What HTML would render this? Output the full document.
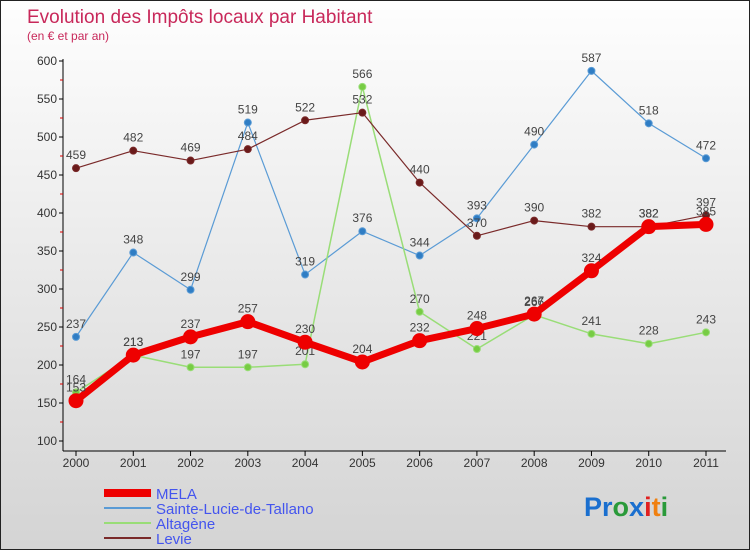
<!DOCTYPE html>
<html><head><meta charset="utf-8"><style>
body{margin:0}
#wrap{width:748px;height:548px;border:1px solid #222;background:linear-gradient(#fefefe,#d4d4d4);position:relative;font-family:"Liberation Sans",sans-serif;overflow:hidden}
</style></head><body>
<div id="wrap">
<svg id="s" width="748" height="548">
<text x="26" y="22" font-size="19" fill="#c8285a">Evolution des Impôts locaux par Habitant</text>
<text x="26" y="39" font-size="12" fill="#c8285a">(en € et par an)</text>
<g id="axes"></g><g id="series"></g><g id="legend"></g>
<text x="583" y="515" font-size="27" font-weight="bold"><tspan fill="#1a6fcf">Pr</tspan><tspan fill="#2a9a3a">o</tspan><tspan fill="#1a6fcf">x</tspan><tspan fill="#e02020">i</tspan><tspan fill="#f08010">t</tspan><tspan fill="#2a9a3a">i</tspan></text>
</svg></div>
<script>
const years=[2000,2001,2002,2003,2004,2005,2006,2007,2008,2009,2010,2011];
const yTicks=[100,150,200,250,300,350,400,450,500,550,600];
const mela=[153,213,237,257,230,204,232,248,267,324,382,385];
const sainte=[237,348,299,519,319,376,344,393,490,587,518,472];
const altagene=[164,213,197,197,201,566,270,221,266,241,228,243];
const levie=[459,482,469,484,522,532,440,370,390,382,382,397];
const NS="http://www.w3.org/2000/svg";
const x=i=>75+i*(630/11);
const y=v=>440-(v-100)*0.76;
function mk(tag,attrs,parent,txt){const e=document.createElementNS(NS,tag);for(const k in attrs)e.setAttribute(k,attrs[k]);if(txt!=null)e.textContent=txt;parent.appendChild(e);return e;}
const ax=document.getElementById('axes');
let yl=mk('line',{x1:62,y1:58,x2:62,y2:450,stroke:'#000'},ax);


let xl=mk('line',{x1:62,y1:450,x2:725,y2:450,stroke:'#000'},ax);


yTicks.forEach((t,i)=>{
 mk('line',{x1:58,y1:y(t),x2:62,y2:y(t),stroke:'#000'},ax);
 if(i<yTicks.length-1)mk('line',{x1:59,y1:y(t+25),x2:62,y2:y(t+25),stroke:'#d00'},ax);
 const tx=mk('text',{x:56,y:y(t)+4,'font-size':12,fill:'#333','text-anchor':'end'},ax,t);
 
 
});
years.forEach((yr,i)=>{
 mk('line',{x1:x(i),y1:450,x2:x(i),y2:455,stroke:'#000'},ax);
 const tx=mk('text',{x:x(i),y:466,'font-size':12,fill:'#333','text-anchor':'middle'},ax,yr);
 
 
});
const sg=document.getElementById('series');
function series(vals,color,dot,w,r,name){
 const g=mk('g',{},sg);
 
 
 mk('polyline',{points:vals.map((v,i)=>x(i)+','+y(v)).join(' '),fill:'none',stroke:color,'stroke-width':w,'stroke-linejoin':'round'},g);
 vals.forEach((v,i)=>{
  const c=mk('circle',{cx:x(i),cy:y(v),r:r,fill:dot,stroke:color,'stroke-width':1},g);
  
  
  const t=mk('text',{x:x(i),y:y(v)-9,'font-size':12,fill:'#444','text-anchor':'middle'},g,v);
  
  
 });
}
series(sainte,'#5a9bd5','#2f7dc4',1.2,3.5,'series-sainte-lucie');
series(altagene,'#99dd77','#77cc44',1.5,3.5,'series-altagene');
series(levie,'#7a2a2a','#6a1a1a',1.2,3.5,'series-levie');
series(mela,'#ee0000','#ee0000',7,7,'series-mela');
const lg=document.getElementById('legend');
[['MELA','#ee0000',8],['Sainte-Lucie-de-Tallano','#5a9bd5',2],['Altagène','#99dd77',2],['Levie','#7a2a2a',2]].forEach((d,i)=>{
 const g=mk('g',{},lg);
 
 
 const ly=492+i*15;
 mk('line',{x1:103,y1:ly,x2:150,y2:ly,stroke:d[1],'stroke-width':d[2]},g);
 mk('text',{x:155,y:ly+6,'font-size':15,fill:'#4455ee'},g,d[0]);
});
</script>
</body></html>
